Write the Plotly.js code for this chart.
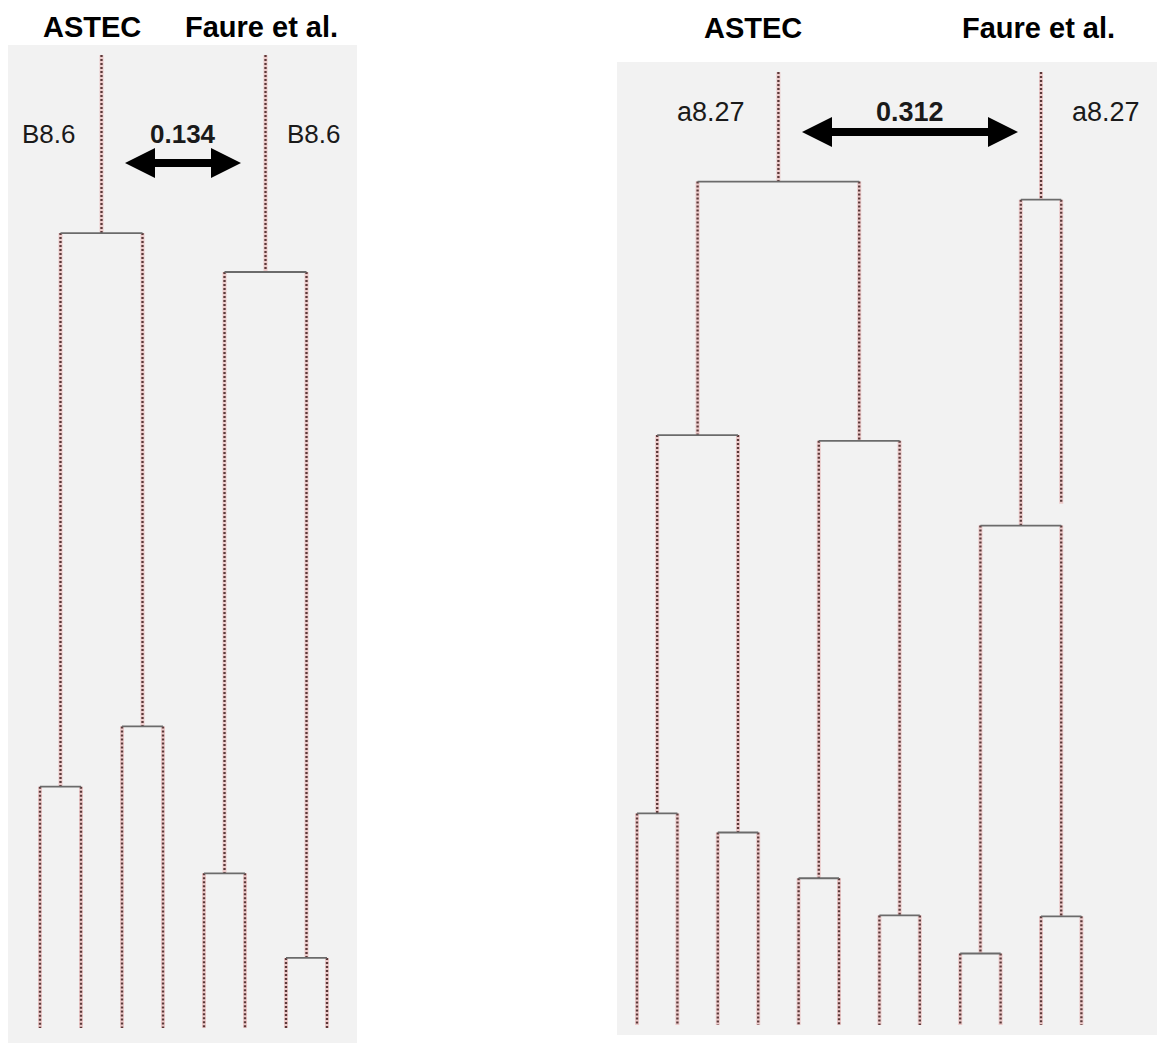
<!DOCTYPE html>
<html><head><meta charset="utf-8">
<script src="https://cdn.plot.ly/plotly-3.0.1.min.js"></script>
<style>html,body{margin:0;padding:0;background:#fff;}#chart{width:1157px;height:1046px;}</style>
</head><body><div id="chart"></div>
<script>
// ---------- DATA: lineage trees (time in arbitrary units, 0 = top, 100 = end) ----------
// Left panel: cell B8.6
const b86AstecParent = [-1, 0, 0, 1, 1, 2, 2];
const b86AstecEnd    = [18.3, 75.2, 69.0, 100, 100, 100, 100];
const b86AstecColumn = [null, null, null, 0, 1, 2, 3];

const b86FaureParent = [-1, 0, 0, 1, 1, 2, 2];
const b86FaureEnd    = [22.3, 84.1, 92.8, 100, 100, 100, 100];
const b86FaureColumn = [null, null, null, 4, 5, 6, 7];

// Right panel: cell a8.27
const a827AstecParent = [-1, 0, 0, 1, 1, 2, 2, 3, 3, 4, 4, 5, 5, 6, 6];
const a827AstecEnd    = [11.5, 38.1, 38.7, 77.8, 79.8, 84.6, 88.5, 100, 100, 100, 100, 100, 100, 100, 100];
const a827AstecColumn = [null, null, null, null, null, null, null, 0, 1, 2, 3, 4, 5, 6, 7];

const a827FaureParent = [-1, 0, 0, 1, 1, 3, 3, 4, 4];
const a827FaureEnd    = [13.4, 47.6, 45.3, 92.5, 88.6, 100, 100, 100, 100];
const a827FaureColumn = [null, null, 10.5, null, null, 8, 9, 10, 11];

const panelNames   = ["B8.6", "a8.27"];
const distances    = ["0.134", "0.312"];
const methodNames  = ["ASTEC", "Faure et al."];

// ---------- tree layout ----------
function layoutTree(parent, end, column) {
  const n = parent.length;
  const children = Array.from({length: n}, () => []);
  parent.forEach((p, i) => { if (p >= 0) children[p].push(i); });
  const x = new Array(n);
  function getX(i) {
    if (x[i] !== undefined) return x[i];
    if (column[i] !== null) { x[i] = column[i]; return x[i]; }
    const cx = children[i].map(getX);
    x[i] = cx.reduce((a, b) => a + b, 0) / cx.length;
    return x[i];
  }
  for (let i = 0; i < n; i++) getX(i);
  const vx = [], vy = [], hx = [], hy = [];
  for (let i = 0; i < n; i++) {
    const start = parent[i] >= 0 ? end[parent[i]] : 0;
    vx.push(x[i], x[i], null); vy.push(start, end[i], null);
    if (children[i].length) {
      const cx = children[i].map(c => x[c]);
      hx.push(Math.min(...cx), Math.max(...cx), null);
      hy.push(end[i], end[i], null);
    }
  }
  return {vx, vy, hx, hy};
}

function treeTraces(trees, xa, ya) {
  const vx = [], vy = [], hx = [], hy = [];
  trees.forEach(t => { vx.push(...t.vx); vy.push(...t.vy); hx.push(...t.hx); hy.push(...t.hy); });
  return [
    {x: vx, y: vy, xaxis: xa, yaxis: ya, mode: 'lines', hoverinfo: 'skip', showlegend: false,
     line: {color: 'rgba(225,130,130,0.35)', width: 4}},
    {x: vx, y: vy, xaxis: xa, yaxis: ya, mode: 'lines', hoverinfo: 'skip', showlegend: false,
     line: {color: '#5a3838', width: 2.3, dash: '2px,2px'}},
    {x: hx, y: hy, xaxis: xa, yaxis: ya, mode: 'lines', hoverinfo: 'skip', showlegend: false,
     line: {color: '#6b6b6b', width: 1.8}}
  ];
}

const left = [layoutTree(b86AstecParent, b86AstecEnd, b86AstecColumn),
              layoutTree(b86FaureParent, b86FaureEnd, b86FaureColumn)];
const right = [layoutTree(a827AstecParent, a827AstecEnd, a827AstecColumn),
               layoutTree(a827FaureParent, a827FaureEnd, a827FaureColumn)];

const data = [...treeTraces(left, 'x', 'y'), ...treeTraces(right, 'x2', 'y2')];

// ---------- layout ----------
const W = 1157, H = 1046;
const px = v => v / W, py = v => 1 - v / H;

function doubleArrow(x1, x2, y) {
  const h = 30, hw = 15, sw = 4;
  const pts = [[x1, y], [x1 + h, y - hw], [x1 + h, y - sw], [x2 - h, y - sw], [x2 - h, y - hw],
               [x2, y], [x2 - h, y + hw], [x2 - h, y + sw], [x1 + h, y + sw], [x1 + h, y + hw]];
  const path = 'M' + pts.map(p => px(p[0]).toFixed(5) + ',' + py(p[1]).toFixed(5)).join(' L') + ' Z';
  return {type: 'path', xref: 'paper', yref: 'paper', path: path,
          fillcolor: '#000', line: {width: 0}};
}

const axisBase = {showgrid: false, zeroline: false, showticklabels: false, ticks: '', showline: false, fixedrange: true};

const fontTitle = {family: 'Liberation Sans, Arial, sans-serif', size: 29, color: '#000'};
const fontLabelL = {family: 'Liberation Sans, Arial, sans-serif', size: 26, color: '#1a1a1a'};
const fontLabelR = {family: 'Liberation Sans, Arial, sans-serif', size: 27, color: '#1a1a1a'};

function ann(text, x, y, font) {
  return {text: text, x: px(x), y: py(y), xref: 'paper', yref: 'paper', showarrow: false,
          xanchor: 'center', yanchor: 'middle', font: font};
}

const layout = {
  width: W, height: H,
  margin: {l: 0, r: 0, t: 0, b: 0},
  paper_bgcolor: '#ffffff',
  plot_bgcolor: '#f2f2f2',
  showlegend: false,
  xaxis:  Object.assign({}, axisBase, {domain: [px(8), px(357)], range: [-0.7805, 7.7317]}),
  yaxis:  Object.assign({}, axisBase, {domain: [1 - 1043 / H, 1 - 45 / H], range: [101.54, -1.028]}),
  xaxis2: Object.assign({}, axisBase, {domain: [px(617), 1], range: [-0.495, 12.871], anchor: 'y2'}),
  yaxis2: Object.assign({}, axisBase, {domain: [1 - 1035 / H, 1 - 62 / H], range: [101.05, -1.049], anchor: 'x2'}),
  shapes: [doubleArrow(125, 241, 163), doubleArrow(802, 1018, 132)],
  annotations: [
    ann('<b>' + methodNames[0] + '</b>', 92, 27, fontTitle),
    ann('<b>' + methodNames[1] + '</b>', 261, 27, fontTitle),
    ann('<b>' + methodNames[0] + '</b>', 753, 28, fontTitle),
    ann('<b>' + methodNames[1] + '</b>', 1038, 28, fontTitle),
    ann(panelNames[0], 49, 134, fontLabelL),
    ann(panelNames[0], 314, 134, fontLabelL),
    ann('<b>' + distances[0] + '</b>', 183, 134, fontLabelL),
    ann(panelNames[1], 711, 112, fontLabelR),
    ann(panelNames[1], 1106, 112, fontLabelR),
    ann('<b>' + distances[1] + '</b>', 910, 112, fontLabelR)
  ]
};

Plotly.newPlot('chart', data, layout, {displayModeBar: false, staticPlot: true});
</script>
</body></html>
